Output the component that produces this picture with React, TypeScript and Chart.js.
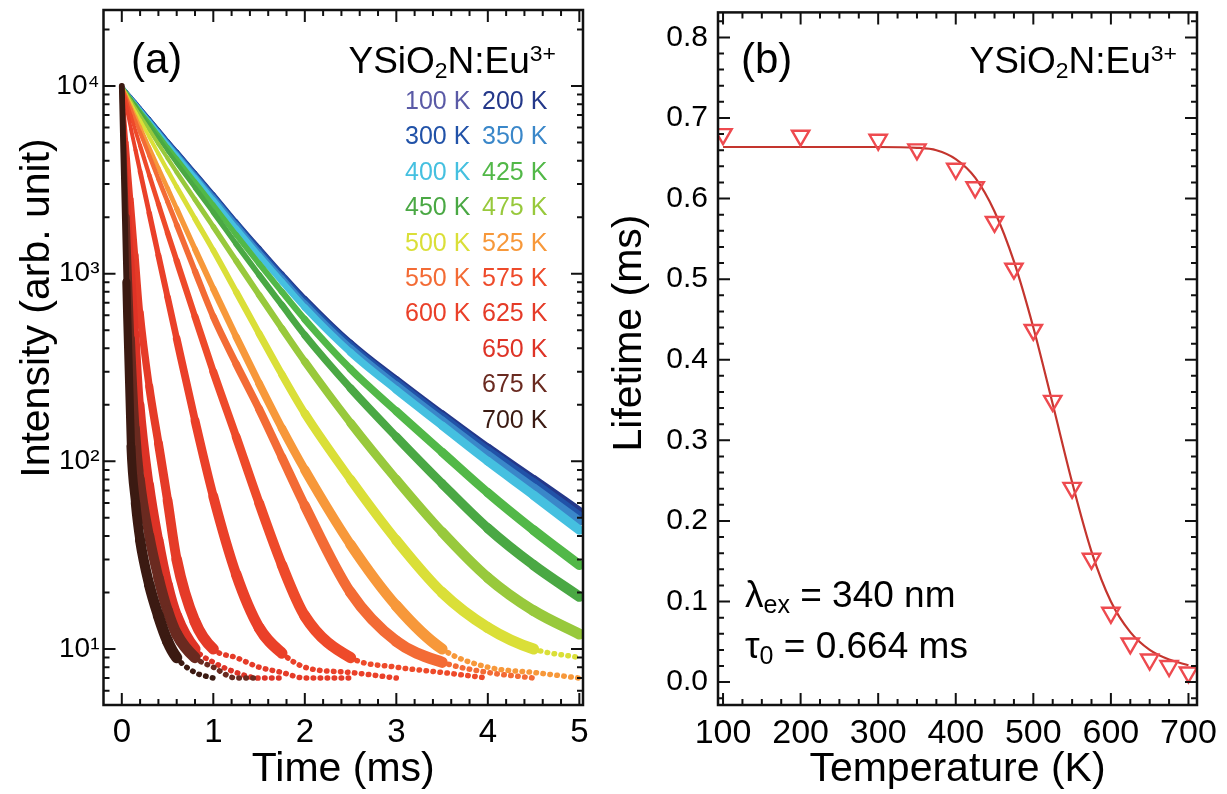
import React, { useEffect, useRef } from 'react';
import { Chart, registerables } from 'chart.js';

Chart.register(...registerables);

const FAMILY = '"Liberation Sans", Arial, Helvetica, sans-serif';

// ---------- Panel (a): decay curves ----------
const TIMES = [0, 0.05, 0.1, 0.15, 0.2, 0.3, 0.4, 0.5, 0.6, 0.8, 1, 1.25, 1.5, 1.75, 2, 2.5, 3, 3.5, 4, 4.5, 5];

const TEMPS = ['100 K', '200 K', '300 K', '350 K', '400 K', '425 K', '450 K', '475 K', '500 K', '525 K', '550 K', '575 K', '600 K', '625 K', '650 K', '675 K', '700 K'];
const COLORS = ['#5a5aa6', '#24388a', '#2152a8', '#3a87c9', '#45c0e0', '#52b848', '#4aa844', '#98c93c', '#dadf38', '#f7983a', '#f36b35', '#ee4a2a', '#ea4029', '#e53b28', '#de3326', '#6a2a20', '#3b1a12'];

const K100 = [10000, 9300, 8700, 8150, 7600, 6650, 5800, 5060, 4440, 3400, 2600, 1850, 1330, 970, 710, 412, 262, 171, 113, 76, 51];
const K200 = [10000, 9350, 8750, 8200, 7650, 6700, 5850, 5100, 4480, 3440, 2640, 1880, 1360, 990, 730, 425, 272, 178, 118, 80, 54];
const K300 = [10000, 9330, 8720, 8170, 7620, 6670, 5820, 5070, 4450, 3410, 2610, 1860, 1340, 975, 715, 416, 265, 173, 114, 77, 51];
const K350 = [10000, 9300, 8680, 8120, 7560, 6600, 5750, 5000, 4380, 3350, 2560, 1820, 1300, 945, 690, 400, 254, 165, 108, 72, 48];
const K400 = [10000, 9280, 8640, 8070, 7500, 6530, 5670, 4920, 4300, 3270, 2480, 1750, 1250, 905, 660, 380, 240, 155, 100, 66, 43];
const K425 = [10000, 9250, 8570, 7970, 7380, 6380, 5500, 4740, 4110, 3090, 2320, 1610, 1130, 800, 570, 310, 185, 112, 68, 43, 28];
const K450 = [10000, 9200, 8480, 7850, 7230, 6190, 5290, 4520, 3880, 2870, 2120, 1440, 985, 680, 470, 245, 135, 76, 44, 28, 19];
const K475 = [10000, 9100, 8300, 7600, 6950, 5850, 4900, 4120, 3470, 2480, 1780, 1170, 770, 510, 340, 160, 80, 42, 24, 16, 12];
const K500 = [10000, 8950, 8050, 7250, 6550, 5350, 4350, 3550, 2900, 1960, 1330, 800, 480, 290, 180, 80, 38, 20, 13, 10, 9];
const K525 = [10000, 8800, 7750, 6850, 6050, 4700, 3650, 2850, 2220, 1350, 830, 460, 260, 150, 90, 36, 17, 10, 8, 7.5, 7];
const K550 = [10000, 8650, 7500, 6500, 5650, 4250, 3200, 2420, 1820, 1030, 590, 330, 190, 105, 58, 20, 11, 8.5, 7.5, 7, null];
const K575 = [10000, 8300, 6900, 5750, 4800, 3350, 2350, 1650, 1170, 590, 300, 135, 60, 28, 15, 9, 8, 7.5, 7, null, null];
const K600 = [10000, 7700, 5900, 4550, 3500, 2100, 1250, 750, 450, 165, 65, 25, 13, 9.5, 8, 7.5, 7, null, null, null, null];
const K625 = [10000, 5000, 2500, 1250, 620, 250, 125, 62, 30, 14, 10, 9, 8, 7.5, 7, 7, null, null, null, null, null];
const K650 = [10000, 3200, 1200, 480, 200, 75, 38, 22, 15, 10, 8.5, 7.5, 7, 7, null, null, null, null, null, null, null];
const K675 = [10000, 2000, 450, 150, 80, 40, 24, 16, 12, 9, 8, 7, 7, null, null, null, null, null, null, null, null];
const K700 = [10000, 900, 120, 60, 38, 22, 15, 11, 9, 7.5, 7, null, null, null, null, null, null, null, null, null, null];

const DECAYS = [K100, K200, K300, K350, K400, K425, K450, K475, K500, K525, K550, K575, K600, K625, K650, K675, K700];

const TIME_TICKS = [0, 1, 2, 3, 4, 5];
const INTENSITY_TICKS = [10, 100, 1000, 10000];
const INTENSITY_LABELS = ['10\u00b9', '10\u00b2', '10\u00b3', '10\u2074'];

// ---------- Panel (b): lifetime vs temperature ----------
const LT_TEMPS = [100, 200, 300, 350, 400, 425, 450, 475, 500, 525, 550, 575, 600, 625, 650, 675, 700];
const LIFETIMES = [0.680, 0.678, 0.673, 0.661, 0.637, 0.614, 0.571, 0.513, 0.437, 0.349, 0.241, 0.153, 0.086, 0.048, 0.028, 0.020, 0.012];
const FIT_T = [100, 200, 300, 350, 375, 400, 425, 450, 475, 500, 525, 550, 575, 600, 625, 650, 675, 700];
const FIT_TAU = [0.664, 0.664, 0.664, 0.663, 0.660, 0.649, 0.626, 0.584, 0.522, 0.440, 0.345, 0.248, 0.162, 0.100, 0.062, 0.040, 0.028, 0.021];
const TEMP_TICKS = [100, 200, 300, 400, 500, 600, 700];
const LIFETIME_TICKS = [0, 0.1, 0.2, 0.3, 0.4, 0.5, 0.6, 0.7, 0.8];

// ---------- helpers ----------
type Seg = { text: string; size: number; dy?: number };

function drawRich(ctx: CanvasRenderingContext2D, segs: Seg[], x: number, y: number, align: 'left' | 'right', color = '#000') {
  ctx.save();
  ctx.fillStyle = color;
  ctx.textBaseline = 'alphabetic';
  ctx.textAlign = 'left';
  const widths = segs.map((s) => {
    ctx.font = `${s.size}px ${FAMILY}`;
    return ctx.measureText(s.text).width;
  });
  const total = widths.reduce((a, b) => a + b, 0);
  let cx = align === 'right' ? x - total : x;
  segs.forEach((s, i) => {
    ctx.font = `${s.size}px ${FAMILY}`;
    ctx.fillText(s.text, cx, y + (s.dy || 0));
    cx += widths[i];
  });
  ctx.restore();
}

function drawVTitle(ctx: CanvasRenderingContext2D, text: string, cx: number, cy: number, size: number) {
  ctx.save();
  ctx.translate(cx, cy);
  ctx.rotate(-Math.PI / 2);
  ctx.font = `${size}px ${FAMILY}`;
  ctx.textAlign = 'center';
  ctx.textBaseline = 'middle';
  ctx.fillStyle = '#000';
  ctx.fillText(text, 0, 0);
  ctx.restore();
}

const framePlugin = {
  id: 'frame',
  afterDatasetsDraw(chart: any, _args: any, opts: any) {
    const { ctx, chartArea } = chart;
    const { left, right, top, bottom } = chartArea;
    const xs = chart.scales.x;
    const ys = chart.scales.y;
    ctx.save();
    ctx.strokeStyle = '#111';
    ctx.lineWidth = 2;
    ctx.beginPath();
    const tickX = (v: number, len: number) => {
      const p = xs.getPixelForValue(v);
      if (p <= left + 1 || p >= right - 1) return;
      ctx.moveTo(p, bottom);
      ctx.lineTo(p, bottom - len);
      ctx.moveTo(p, top);
      ctx.lineTo(p, top + len);
    };
    const tickY = (v: number, len: number) => {
      const p = ys.getPixelForValue(v);
      if (p <= top + 1 || p >= bottom - 1) return;
      ctx.moveTo(left, p);
      ctx.lineTo(left + len, p);
      ctx.moveTo(right, p);
      ctx.lineTo(right - len, p);
    };
    opts.xMajor.forEach((v: number) => tickX(v, 12));
    opts.xMinor.forEach((v: number) => tickX(v, 6));
    opts.yMajor.forEach((v: number) => tickY(v, 12));
    opts.yMinor.forEach((v: number) => tickY(v, 6));
    ctx.stroke();
    ctx.lineWidth = 2.5;
    ctx.strokeRect(left, top, right - left, bottom - top);
    ctx.restore();
  },
};

const FORMULA = (size: number): Seg[] => [
  { text: 'YSiO', size },
  { text: '2', size: size * 0.62, dy: 5 },
  { text: 'N:Eu', size },
  { text: '3+', size: size * 0.62, dy: -12 },
];

const textPluginA = {
  id: 'textA',
  afterDraw(chart: any) {
    const ctx = chart.ctx as CanvasRenderingContext2D;
    drawRich(ctx, [{ text: '(a)', size: 42 }], 131, 73, 'left');
    drawRich(ctx, FORMULA(37), 556, 73, 'right');
    TEMPS.forEach((name, i) => {
      const row = i < 14 ? Math.floor(i / 2) : 7 + (i - 14);
      const col = i < 14 ? i % 2 : 1;
      drawRich(ctx, [{ text: name, size: 25 }], col === 0 ? 405 : 482, 109 + row * 35.4, 'left', COLORS[i]);
    });
    drawVTitle(ctx, 'Intensity (arb. unit)', 38, 308, 41);
  },
};

const textPluginB = {
  id: 'textB',
  afterDraw(chart: any) {
    const ctx = chart.ctx as CanvasRenderingContext2D;
    drawRich(ctx, [{ text: '(b)', size: 42 }], 141, 73, 'left');
    drawRich(ctx, FORMULA(37), 577, 73, 'right');
    drawRich(ctx, [{ text: '\u03bb', size: 37 }, { text: 'ex', size: 25, dy: 6 }, { text: ' = 340 nm', size: 37 }], 145, 607, 'left');
    drawRich(ctx, [{ text: '\u03c4', size: 37 }, { text: '0', size: 25, dy: 6 }, { text: ' = 0.664 ms', size: 37 }], 145, 658, 'left');
    drawVTitle(ctx, 'Lifetime (ms)', 30, 333, 41);
  },
};

function minorLinear(from: number, to: number, step: number, majors: number[]) {
  const out: number[] = [];
  const n = Math.round((to - from) / step);
  for (let k = 0; k <= n; k++) {
    const v = +(from + k * step).toFixed(6);
    if (!majors.some((m) => Math.abs(m - v) < 1e-9)) out.push(v);
  }
  return out;
}

function minorLog() {
  const out: number[] = [];
  for (let d = 0; d <= 4; d++) {
    for (let k = 2; k <= 9; k++) out.push(k * Math.pow(10, d));
  }
  return out;
}

export default function App() {
  const refA = useRef<HTMLCanvasElement>(null);
  const refB = useRef<HTMLCanvasElement>(null);

  useEffect(() => {
    const tickFont = (size: number) => ({ size, family: FAMILY });

    const chartA = new Chart(refA.current as HTMLCanvasElement, {
      type: 'scatter',
      data: {
        datasets: TEMPS.map((name, i) => ({
          label: name,
          data: TIMES.map((t, j) => ({ x: t, y: DECAYS[i][j] as any })),
          showLine: true,
          pointRadius: 0,
          borderColor: COLORS[i],
          backgroundColor: COLORS[i],
          borderWidth: 4,
          borderCapStyle: 'round',
          borderJoinStyle: 'round',
          cubicInterpolationMode: 'monotone',
          spanGaps: false,
          order: TEMPS.length - i,
          segment: {
            borderWidth: (c: any) => {
              const y0 = c.p0.parsed.y;
              const y1 = c.p1.parsed.y;
              if (y0 < 11 && y1 < 11) return 5.5;
              const y = Math.min(y0, y1);
              return Math.min(12, 3 + 2.7 * (4 - Math.log10(y)));
            },
            borderDash: (c: any) => (c.p0.parsed.y < 11 && c.p1.parsed.y < 11 ? [0.5, 6.5] : undefined),
          },
        })) as any,
      },
      options: {
        animation: false,
        responsive: false,
        devicePixelRatio: 1,
        events: [],
        layout: { padding: { left: 0, right: 17, top: 10, bottom: 0 } },
        plugins: {
          legend: { display: false },
          tooltip: { enabled: false },
          frame: {
            xMajor: TIME_TICKS,
            xMinor: minorLinear(-0.2, 5, 0.2, TIME_TICKS),
            yMajor: INTENSITY_TICKS,
            yMinor: minorLog(),
          },
        } as any,
        scales: {
          x: {
            type: 'linear',
            min: -0.2,
            max: 5.04,
            grid: { display: false, drawTicks: false },
            border: { display: false },
            ticks: { font: tickFont(33), color: '#000', padding: 8, maxRotation: 0, autoSkip: false, callback: (v: any) => String(v) },
            afterBuildTicks: (s: any) => { s.ticks = TIME_TICKS.map((value) => ({ value })); },
            afterFit: (s: any) => { s.height = 89; s.paddingLeft = 0; s.paddingRight = 0; },
            title: { display: true, text: 'Time (ms)', font: { size: 41, family: FAMILY }, color: '#000', padding: { top: 0, bottom: 0 } },
          },
          y: {
            type: 'logarithmic',
            min: 5.03,
            max: 25400,
            grid: { display: false, drawTicks: false },
            border: { display: false },
            ticks: {
              font: tickFont(28),
              color: '#000',
              padding: 4,
              autoSkip: false,
              callback: (v: any) => {
                const i = INTENSITY_TICKS.indexOf(Number(v));
                return i >= 0 ? INTENSITY_LABELS[i] : '';
              },
            },
            afterBuildTicks: (s: any) => { s.ticks = INTENSITY_TICKS.map((value) => ({ value })); },
            afterFit: (s: any) => { s.width = 103.5; s.paddingTop = 0; s.paddingBottom = 0; },
            title: { display: false },
          },
        } as any,
      },
      plugins: [framePlugin, textPluginA] as any,
    });

    const chartB = new Chart(refB.current as HTMLCanvasElement, {
      type: 'scatter',
      data: {
        datasets: [
          {
            label: 'Lifetime',
            data: LT_TEMPS.map((t, i) => ({ x: t, y: LIFETIMES[i] })),
            showLine: false,
            pointStyle: 'triangle',
            rotation: 180,
            pointRadius: 10,
            borderWidth: 2.4,
            borderColor: '#ee4a4f',
            backgroundColor: 'rgba(255,255,255,0)',
            order: 0,
          },
          {
            label: 'Fit',
            data: FIT_T.map((t, i) => ({ x: t, y: FIT_TAU[i] })),
            showLine: true,
            pointRadius: 0,
            borderWidth: 2.2,
            borderColor: '#c4352e',
            cubicInterpolationMode: 'monotone',
            order: 1,
          },
        ] as any,
      },
      options: {
        animation: false,
        responsive: false,
        devicePixelRatio: 1,
        events: [],
        layout: { padding: { left: 0, right: 30, top: 10, bottom: 0 } },
        plugins: {
          legend: { display: false },
          tooltip: { enabled: false },
          frame: {
            xMajor: TEMP_TICKS,
            xMinor: minorLinear(100, 700, 25, TEMP_TICKS),
            yMajor: LIFETIME_TICKS,
            yMinor: minorLinear(-0.02, 0.82, 0.02, LIFETIME_TICKS),
          },
        } as any,
        scales: {
          x: {
            type: 'linear',
            min: 93.5,
            max: 711,
            grid: { display: false, drawTicks: false },
            border: { display: false },
            ticks: { font: tickFont(34), color: '#000', padding: 8, maxRotation: 0, autoSkip: false, callback: (v: any) => String(v) },
            afterBuildTicks: (s: any) => { s.ticks = TEMP_TICKS.map((value) => ({ value })); },
            afterFit: (s: any) => { s.height = 89; s.paddingLeft = 0; s.paddingRight = 0; },
            title: { display: true, text: 'Temperature (K)', font: { size: 41, family: FAMILY }, color: '#000', padding: { top: 0, bottom: 0 } },
          },
          y: {
            type: 'linear',
            min: -0.0284,
            max: 0.831,
            grid: { display: false, drawTicks: false },
            border: { display: false },
            ticks: { font: tickFont(30), color: '#000', padding: 10, autoSkip: false, callback: (v: any) => Number(v).toFixed(1) },
            afterBuildTicks: (s: any) => { s.ticks = LIFETIME_TICKS.map((value) => ({ value })); },
            afterFit: (s: any) => { s.width = 118; s.paddingTop = 0; s.paddingBottom = 0; },
            title: { display: false },
          },
        } as any,
      },
      plugins: [framePlugin, textPluginB] as any,
    });

    return () => {
      chartA.destroy();
      chartB.destroy();
    };
  }, []);

  return (
    <div style={{ position: 'absolute', left: 0, top: 0, width: 1227, height: 794, background: '#fff' }}>
      <canvas ref={refA} width={600} height={794} style={{ position: 'absolute', left: 0, top: 0, width: 600, height: 794 }} />
      <canvas ref={refB} width={627} height={794} style={{ position: 'absolute', left: 600, top: 0, width: 627, height: 794 }} />
    </div>
  );
}
